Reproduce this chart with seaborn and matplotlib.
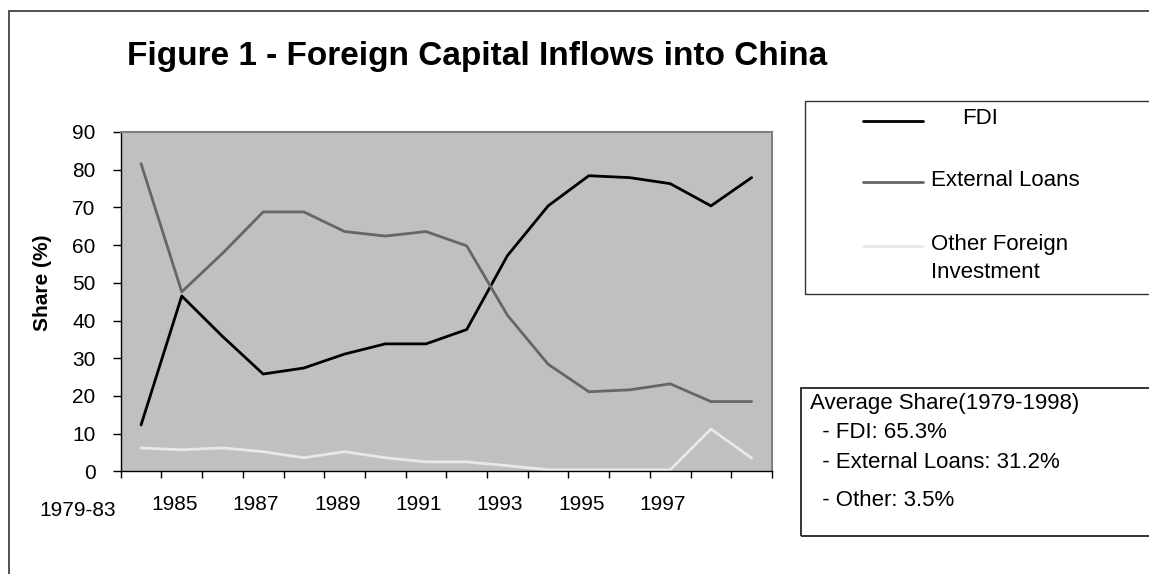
import numpy as np
import pandas as pd
import matplotlib
matplotlib.use("Agg")
import matplotlib.pyplot as plt
import matplotlib.transforms as mtransforms
from matplotlib.patches import Rectangle
from matplotlib.lines import Line2D
import seaborn as sns

# data (share of total inflows, %)
periods = ['1979-83'] + [str(y) for y in range(1984, 1999)]
fdi = [12.3, 46.5, 35.8, 25.8, 27.4, 31.1, 33.8, 33.8, 37.6, 57.2, 70.4, 78.4, 77.9, 76.3, 70.4, 77.9]
ext_loans = [81.6, 47.6, 57.8, 68.8, 68.8, 63.6, 62.4, 63.6, 59.8, 41.4, 28.4, 21.1, 21.6, 23.2, 18.5, 18.5]
other = [6.2, 5.7, 6.2, 5.2, 3.6, 5.2, 3.6, 2.5, 2.5, 1.5, 0.4, 0.4, 0.4, 0.4, 11.2, 3.5]

series_names = ['FDI', 'External Loans', 'Other Foreign\nInvestment']
series_colors = ['#000000', '#666666', '#E8E8E8']
avg_lines = ['Average Share(1979-1998)', '  - FDI: 65.3%', '  - External Loans: 31.2%', '  - Other: 3.5%']

W, H = 1149, 574

sns.set_style('white')
plt.rcParams['font.family'] = ['Liberation Sans', 'DejaVu Sans']
plt.rcParams['text.color'] = 'black'
plt.rcParams['axes.labelcolor'] = 'black'
plt.rcParams['xtick.color'] = 'black'
plt.rcParams['ytick.color'] = 'black'

df = pd.DataFrame({
    'pos': list(range(len(periods))) * 3,
    'share': fdi + ext_loans + other,
    'series': [s for s in series_names for _ in periods],
})

fig = plt.figure(figsize=(W / 100, H / 100), dpi=100)
fig.patch.set_facecolor('white')


def px(x, y):
    return x / W, 1 - y / H


ax = fig.add_axes([120.7 / W, 1 - 471.3 / H, (772 - 120.7) / W, (471.3 - 132) / H])
ax.set_facecolor('#C0C0C0')

sns.lineplot(data=df, x='pos', y='share', hue='series', hue_order=series_names,
             palette=dict(zip(series_names, series_colors)), linewidth=2.0,
             legend=False, ax=ax)

ax.set_xlim(-0.5, len(periods) - 0.5)
ax.set_ylim(0, 90)
ax.set_yticks(range(0, 91, 10))
ax.tick_params(axis='y', direction='out', length=6, width=1, colors='black',
               labelsize=15, pad=12, left=True)
ax.set_xticks(np.arange(len(periods) + 1) - 0.5)
ax.set_xticklabels([])
ax.tick_params(axis='x', direction='out', length=5, width=1, colors='black', bottom=True)
ax.set_xlabel('')
ax.set_ylabel('')

for side in ['left', 'bottom']:
    ax.spines[side].set_color('black')
    ax.spines[side].set_linewidth(1.0)
for side in ['top', 'right']:
    ax.spines[side].set_color('#808080')
    ax.spines[side].set_linewidth(1.5)

# category labels: every other period, right-aligned at the category's left edge
trans = mtransforms.blended_transform_factory(ax.transData, ax.transAxes)
for i in range(0, len(periods), 2):
    yy = -0.117 if i == 0 else -0.099
    t = trans + mtransforms.ScaledTranslation(-4.5 / 100, 0, fig.dpi_scale_trans)
    ax.text(i - 0.5, yy, periods[i], transform=t, ha='right', va='center', fontsize=15)

fig.text(*px(43, 283), 'Share (%)', rotation=90, ha='center', va='center',
         fontsize=15, fontweight='bold')

fig.text(*px(127, 65), 'Figure 1 - Foreign Capital Inflows into China',
         fontsize=24, fontweight='bold', ha='left', va='baseline')

# outer frame
x0, y0 = px(9, 11)
fig.patches.append(Rectangle((x0, -0.2), 1.2, y0 + 0.2, transform=fig.transFigure,
                             fill=False, edgecolor='#333333', linewidth=1.2))

# legend box
lx, ly = px(805, 294)
fig.patches.append(Rectangle((lx, ly), 1.0, (294 - 100.7) / H, transform=fig.transFigure,
                             fill=False, edgecolor='#333333', linewidth=1.0))
leg_y = [120.7, 182.3, 246]
text_x = [962, 931, 931]
for name, col, yy, tx in zip(series_names, series_colors, leg_y, text_x):
    a, b = px(863, yy)
    c, _ = px(923, yy)
    fig.lines.append(Line2D([a, c], [b, b], transform=fig.transFigure, color=col, linewidth=2.0))
    if '\n' in name:
        first, second = name.split('\n')
        fig.text(*px(tx, 245), first, fontsize=16, ha='left', va='center')
        fig.text(*px(tx, 272.7), second, fontsize=16, ha='left', va='center')
    else:
        fig.text(*px(tx, yy - 2), name, fontsize=16, ha='left', va='center')

# average share box
bx, by = px(801, 536)
fig.patches.append(Rectangle((bx, by), 1.0, (536 - 388) / H, transform=fig.transFigure,
                             fill=False, edgecolor='#333333', linewidth=1.4))
for txt, yy in zip(avg_lines, [403, 433, 462, 501]):
    fig.text(*px(810, yy), txt, fontsize=16, ha='left', va='center')

fig.savefig('out.png', dpi=100)
